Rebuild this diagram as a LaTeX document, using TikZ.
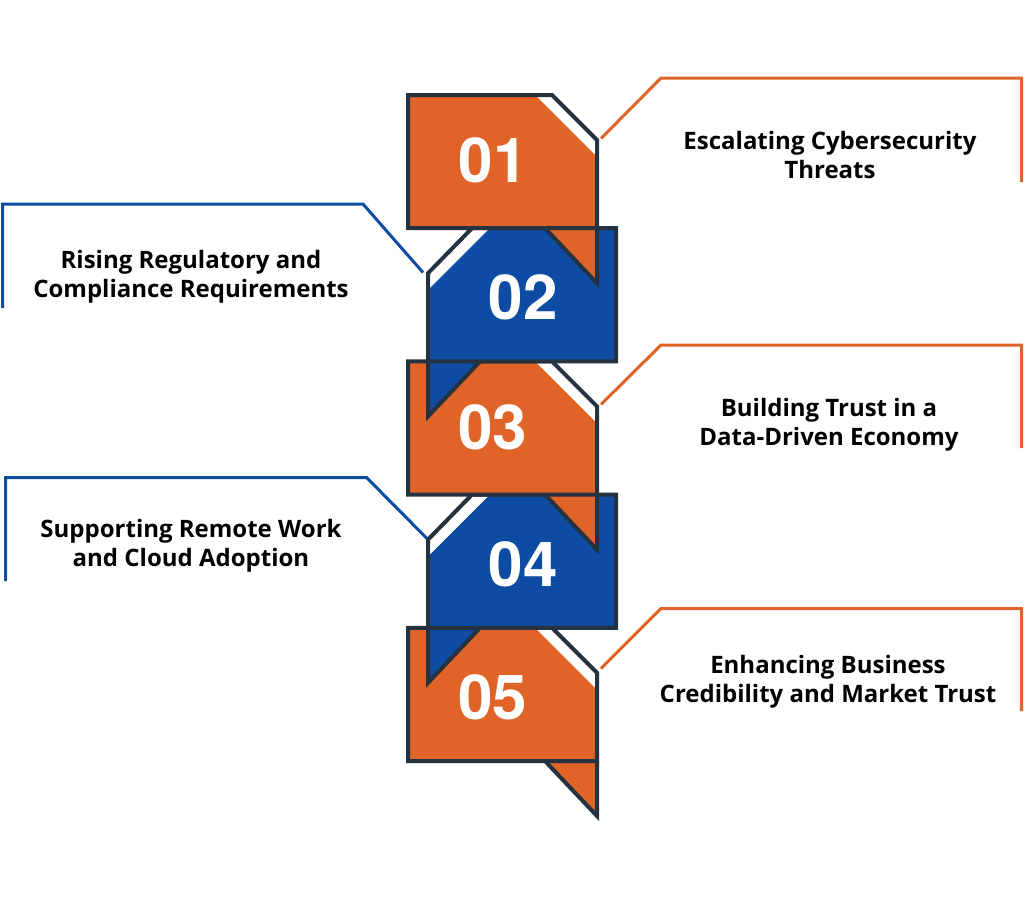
\documentclass[tikz,border=0pt]{standalone}
\usepackage{fontspec}
\setmainfont{TeX Gyre Heros}
\newfontfamily\labelfont{Open Sans}
\definecolor{orng}{RGB}{224,99,40}
\definecolor{blu}{RGB}{13,76,162}
\definecolor{outl}{RGB}{37,50,64}
\tikzset{
  outline/.style={draw=outl, line width=4pt, line join=miter},
  num/.style={text=white, font=\fontsize{62}{62}\selectfont\bfseries, inner sep=0pt},
  label/.style={text=black, font=\labelfont\fontsize{24}{29}\selectfont\bfseries, align=center, inner sep=0pt},
  olink/.style={draw=orng, line width=3pt},
  blink/.style={draw=blu, line width=3pt},
}
\newcommand\orangebox[1]{%
  \pgfmathsetmacro\T{#1}\pgfmathsetmacro\B{#1+133.2}%
  \fill[white] (408,\T) -- (552,\T) -- (597,\T+45) -- (597,\B) -- (408,\B) -- cycle;
  \fill[orng] (408,\T) -- (535,\T) -- (597,\T+62) -- (597,\B+55) -- (545,\B) -- (408,\B) -- cycle;
  \draw[outline] (408,\T) -- (552,\T) -- (597,\T+45) -- (597,\B) -- (408,\B) -- cycle;
  \draw[outline] (545,\B) -- (597,\B+55) -- (597,\B);
}
\newcommand\bluebox[1]{%
  \pgfmathsetmacro\T{#1}\pgfmathsetmacro\B{#1+133.2}%
  \fill[white] (472,\T) -- (616,\T) -- (616,\B) -- (428,\B) -- (428,\T+45) -- cycle;
  \fill[blu] (490,\T) -- (616,\T) -- (616,\B) -- (480,\B) -- (428,\B+55) -- (428,\T+62) -- cycle;
  \draw[outline] (472,\T) -- (616,\T) -- (616,\B) -- (428,\B) -- (428,\T+45) -- cycle;
  \draw[outline] (480,\B) -- (428,\B+55) -- (428,\B);
}
\begin{document}
\begin{tikzpicture}[x=1pt,y=-1pt]
\useasboundingbox (0,0) rectangle (1024,899);
% boxes, bottom first
\orangebox{627.8}
\bluebox{494.6}
\orangebox{361.4}
\bluebox{228.2}
\orangebox{95}
% numbers
\node[num] (n1) at (493,160) {01};
\node[num] (n2) at (523,297) {02};
\node[num] (n3) at (492.5,427) {03};
\node[num] (n4) at (523,564) {04};
\node[num] (n5) at (492.5,697) {05};
% connector anchors
\coordinate (a1) at (601,138.5);
\coordinate (k1) at (661,78);
\coordinate (m1) at (1021.5,78);
\coordinate (e1) at (1021.5,182);
\coordinate (a2) at (423,272.5);
\coordinate (k2) at (363,204);
\coordinate (m2) at (2.5,204);
\coordinate (e2) at (2.5,308);
\coordinate (a3) at (601,404.5);
\coordinate (k3) at (661,345);
\coordinate (m3) at (1021.5,345);
\coordinate (e3) at (1021.5,448);
\coordinate (a4) at (427,538.5);
\coordinate (k4) at (366.5,477.5);
\coordinate (m4) at (5.5,477.5);
\coordinate (e4) at (5.5,581);
\coordinate (a5) at (601,668.5);
\coordinate (k5) at (661,608.5);
\coordinate (m5) at (1021.5,608.5);
\coordinate (e5) at (1021.5,711);
\draw[olink] (a1) -- (k1) -- (m1) -- (e1);
\draw[blink] (a2) -- (k2) -- (m2) -- (e2);
\draw[olink] (a3) -- (k3) -- (m3) -- (e3);
\draw[blink] (a4) -- (k4) -- (m4) -- (e4);
\draw[olink] (a5) -- (k5) -- (m5) -- (e5);
% labels
\node[label] (t1) at (830,154.5) {Escalating Cybersecurity\\Threats};
\node[label] (t2) at (191,276.5) {Rising Regulatory and\\Compliance Requirements};
\node[label] (t3) at (829,424.5) {Building Trust in a\\Data-Driven Economy};
\node[label] (t4) at (191,545.5) {Supporting Remote Work\\and Cloud Adoption};
\node[label] (t5) at (828,681.5) {Enhancing Business\\Credibility and Market Trust};
\end{tikzpicture}
\end{document}
